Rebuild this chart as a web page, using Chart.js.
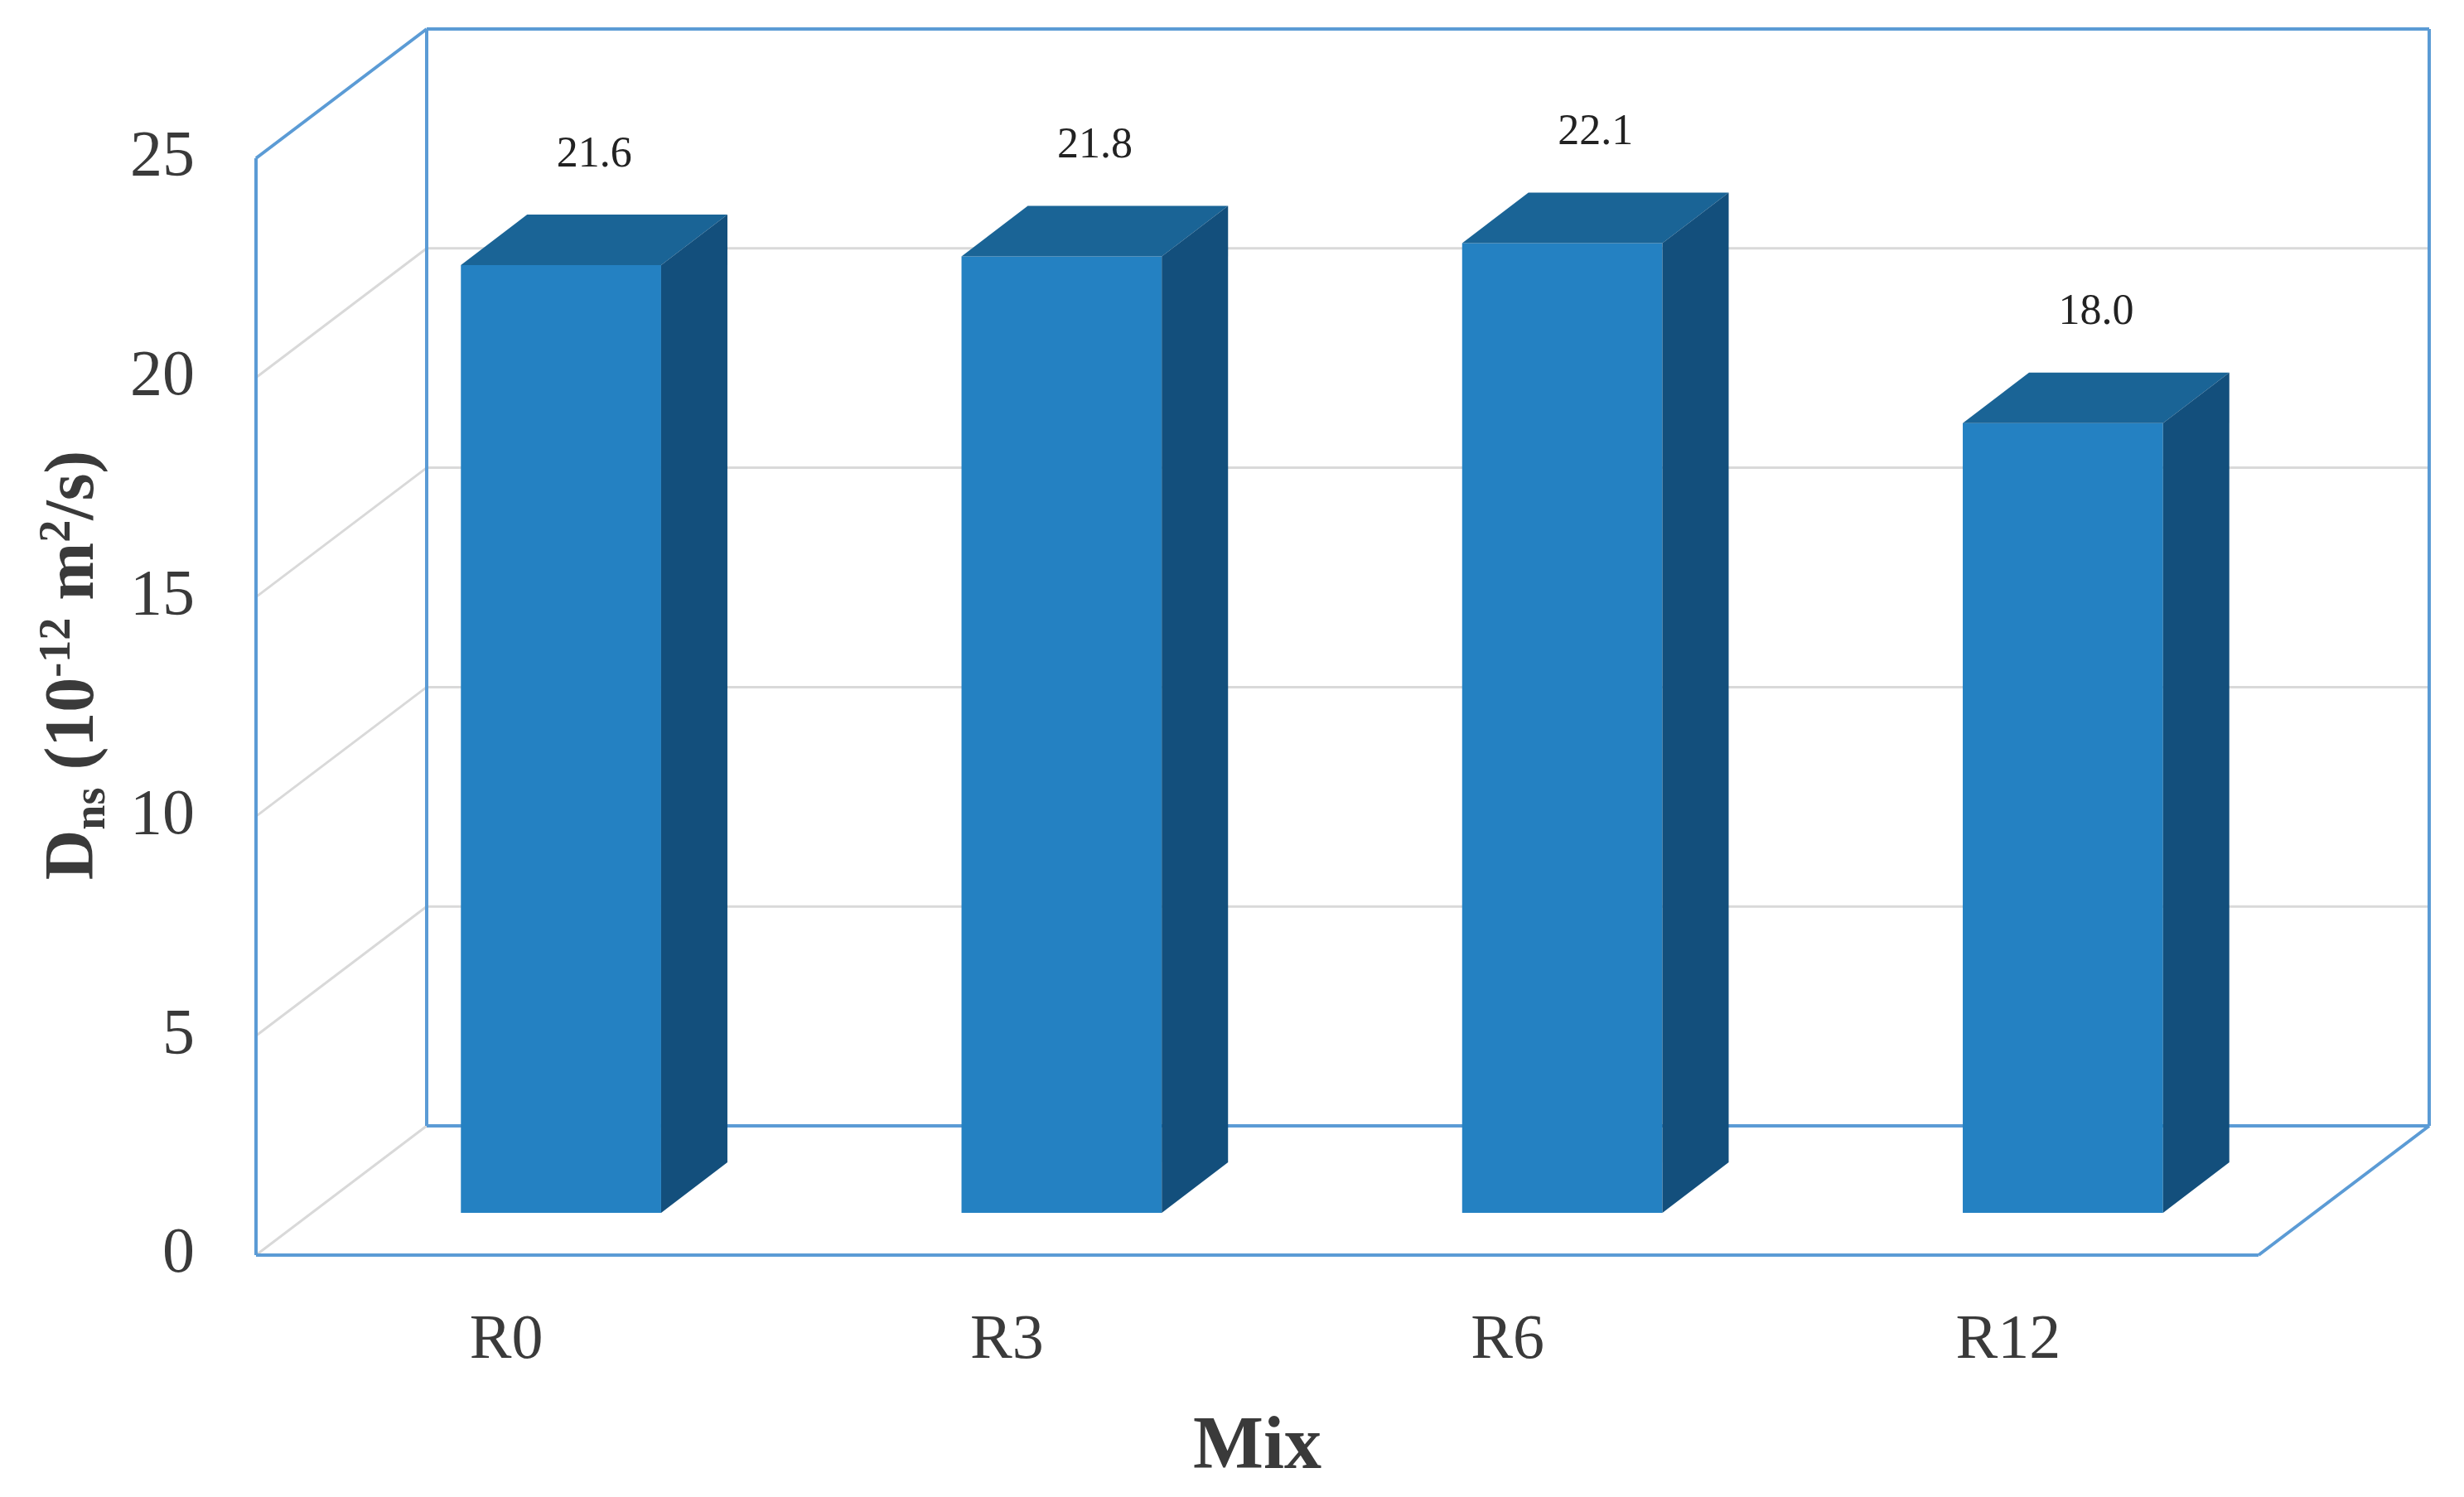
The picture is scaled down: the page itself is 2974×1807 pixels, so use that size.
<!DOCTYPE html>
<html>
<head>
<meta charset="utf-8">
<script src="https://cdn.jsdelivr.net/npm/chart.js@4"></script>
<style>
  html, body { margin: 0; padding: 0; background: #fff; }
  canvas { display: block; }
</style>
</head>
<body>
<canvas id="chart" width="2974" height="1807"></canvas>
<script>
// data
const categories = ['R0', 'R3', 'R6', 'R12'];
const dnsValues = [21.6, 21.8, 22.1, 18.0];
const valueLabels = ['21.6', '21.8', '22.1', '18.0'];
const yTicks = [0, 5, 10, 15, 20, 25];

// 3D geometry (px)
const BACK_DX = 206, BACK_DY = 156;   // back wall offset from front plane
const BAR_DX = 66, BAR_DY = 51;       // bar plane offset from front plane
const SIDE_DX = 80, SIDE_DY = 61;     // bar depth
const FRAME = '#5b9bd5';
const GRID = '#d9d9d9';
const FRONT = '#2481c2';
const TOP = '#1a6496';
const SIDE = '#134f7c';
const SERIF = '"Liberation Serif", "DejaVu Serif", serif';

const line = (ctx, x1, y1, x2, y2, color, w) => {
  ctx.beginPath(); ctx.strokeStyle = color; ctx.lineWidth = w;
  ctx.moveTo(x1, y1); ctx.lineTo(x2, y2); ctx.stroke();
};
const poly = (ctx, pts, color) => {
  ctx.beginPath(); ctx.fillStyle = color;
  pts.forEach((p, i) => i ? ctx.lineTo(p[0], p[1]) : ctx.moveTo(p[0], p[1]));
  ctx.closePath(); ctx.fill();
};

// back wall, side wall, floor
const boxPlugin = {
  id: 'box',
  beforeDatasetsDraw(chart) {
    const ctx = chart.ctx, y = chart.scales.y, a = chart.chartArea;
    const L = a.left, R = a.right;
    ctx.save();
    yTicks.forEach(v => {
      if (v === 0 || v === 25) return;
      const py = y.getPixelForValue(v);
      line(ctx, L, py, L + BACK_DX, py - BACK_DY, GRID, 3);
      line(ctx, L + BACK_DX, py - BACK_DY, R + BACK_DX, py - BACK_DY, GRID, 3);
    });
    const y0 = y.getPixelForValue(0), yt = y.getPixelForValue(25);
    line(ctx, L, y0, L + BACK_DX, y0 - BACK_DY, GRID, 3);
    // frame
    line(ctx, L, y0, L, yt, FRAME, 4);
    line(ctx, L, yt, L + BACK_DX, yt - BACK_DY, FRAME, 4);
    line(ctx, L + BACK_DX, y0 - BACK_DY, L + BACK_DX, yt - BACK_DY, FRAME, 4);
    line(ctx, L + BACK_DX, yt - BACK_DY, R + BACK_DX, yt - BACK_DY, FRAME, 4);
    line(ctx, R + BACK_DX, y0 - BACK_DY, R + BACK_DX, yt - BACK_DY, FRAME, 4);
    line(ctx, L + BACK_DX, y0 - BACK_DY, R + BACK_DX, y0 - BACK_DY, FRAME, 4);
    line(ctx, R, y0, R + BACK_DX, y0 - BACK_DY, FRAME, 4);
    line(ctx, L, y0, R, y0, FRAME, 4);
    ctx.restore();

    // shift bars into their depth plane
    ctx.save();
    ctx.translate(BAR_DX, -BAR_DY);
  },
  afterDatasetsDraw(chart) {
    const ctx = chart.ctx;
    const meta = chart.getDatasetMeta(0);
    meta.data.forEach((bar, i) => {
      const l = bar.x - bar.width / 2, r = bar.x + bar.width / 2;
      const t = bar.y, b = bar.base;
      poly(ctx, [[l, t], [r, t], [r + SIDE_DX, t - SIDE_DY], [l + SIDE_DX, t - SIDE_DY]], TOP);
      poly(ctx, [[r, t], [r + SIDE_DX, t - SIDE_DY], [r + SIDE_DX, b - SIDE_DY], [r, b]], SIDE);
      ctx.fillStyle = '#222';
      ctx.font = '52px ' + SERIF;
      ctx.textAlign = 'center';
      ctx.textBaseline = 'middle';
      ctx.fillText(valueLabels[i], bar.x + SIDE_DX / 2, t - SIDE_DY - 72);
    });
    ctx.restore();

    // y axis title with sub/superscripts
    const a = chart.chartArea;
    const parts = [
      ['D', 84, 0], ['ns', 54, 14], [' (10', 84, 0], ['-12', 54, -28],
      [' m', 84, 0], ['2', 54, -28], ['/s)', 84, 0]
    ];
    ctx.save();
    ctx.fillStyle = '#3a3a3a';
    ctx.textBaseline = 'alphabetic';
    ctx.textAlign = 'left';
    let total = 0;
    parts.forEach(p => { ctx.font = 'bold ' + p[1] + 'px ' + SERIF; total += ctx.measureText(p[0]).width; });
    ctx.translate(112, (a.top + a.bottom) / 2 - 50);
    ctx.rotate(-Math.PI / 2);
    let x = -total / 2;
    parts.forEach(p => {
      ctx.font = 'bold ' + p[1] + 'px ' + SERIF;
      ctx.fillText(p[0], x, p[2]);
      x += ctx.measureText(p[0]).width;
    });
    ctx.restore();
  }
};

new Chart(document.getElementById('chart'), {
  type: 'bar',
  data: {
    labels: categories,
    datasets: [{
      data: dnsValues,
      backgroundColor: FRONT,
      borderWidth: 0,
      barPercentage: 0.4,
      categoryPercentage: 1.0
    }]
  },
  options: {
    responsive: false,
    devicePixelRatio: 1,
    animation: false,
    layout: { padding: { top: 191, right: 248, left: 0, bottom: 0 } },
    plugins: { legend: { display: false }, tooltip: { enabled: false } },
    scales: {
      x: {
        grid: { display: false }, border: { display: false },
        ticks: { color: '#3a3a3a', font: { family: SERIF, size: 76 }, padding: 50 },
        title: { display: true, text: 'Mix', color: '#3a3a3a', font: { family: SERIF, size: 90, weight: 'bold' }, padding: { top: 10 } },
        afterFit: s => { s.height = 292; }
      },
      y: {
        min: 0, max: 25,
        grid: { display: false }, border: { display: false },
        ticks: { stepSize: 5, color: '#3a3a3a', font: { family: SERIF, size: 78 }, padding: 66 },
        afterFit: s => { s.width = 309; }
      }
    }
  },
  plugins: [boxPlugin]
});
</script>
</body>
</html>
